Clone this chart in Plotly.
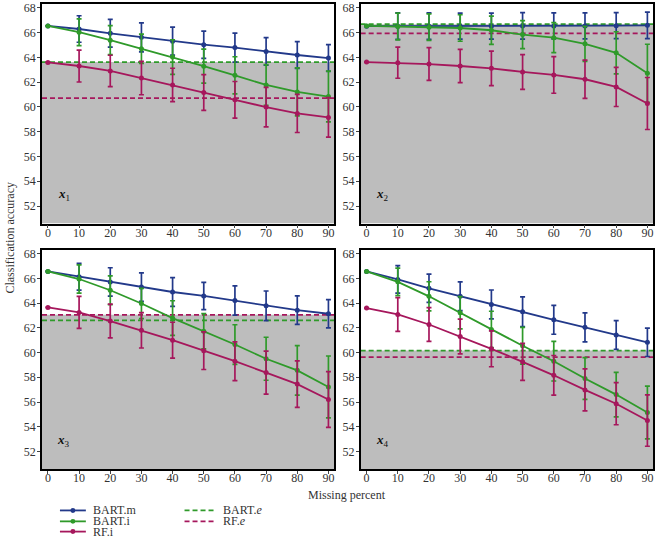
import plotly.graph_objects as go
from plotly.subplots import make_subplots

missing = [0, 10, 20, 30, 40, 50, 60, 70, 80, 90]
panel_labels = ["1", "2", "3", "4"]
series_names = ["BART.m", "BART.i", "RF.i"]
dashed_names = ["BART.e", "RF.e"]

# Panel x1
x1_bart_m = [66.55, 66.30, 65.95, 65.63, 65.32, 65.03, 64.80, 64.49, 64.20, 63.95]
x1_bart_m_err = [None, 1.07, 1.12, 1.17, 1.13, 1.10, 1.17, 1.12, 1.08, 1.08]
x1_bart_i = [66.55, 66.04, 65.40, 64.70, 64.03, 63.30, 62.56, 61.78, 61.22, 60.84]
x1_bart_i_err = [None, 1.08, 1.17, 1.18, 1.40, 1.38, 1.50, 1.65, 1.94, 2.05]
x1_rf_i = [63.60, 63.31, 62.91, 62.34, 61.78, 61.17, 60.58, 59.99, 59.48, 59.16]
x1_rf_i_err = [None, 1.29, 1.27, 1.35, 1.35, 1.45, 1.48, 1.60, 1.54, 1.60]
x1_bart_e = 63.63
x1_rf_e = 60.71

# Panel x2
x2_bart_m = [66.53, 66.53, 66.53, 66.53, 66.53, 66.55, 66.55, 66.55, 66.57, 66.60]
x2_bart_m_err = [None, 1.07, 1.07, 1.05, 1.05, 1.07, 1.05, 1.05, 1.05, 1.07]
x2_bart_i = [66.55, 66.50, 66.45, 66.38, 66.20, 65.85, 65.60, 65.10, 64.38, 62.72]
x2_bart_i_err = [None, 1.08, 1.07, 1.07, 1.14, 1.13, 1.21, 1.41, 1.70, 2.35]
x2_rf_i = [63.63, 63.58, 63.47, 63.31, 63.12, 62.83, 62.59, 62.24, 61.62, 60.28]
x2_rf_i_err = [None, 1.26, 1.32, 1.35, 1.40, 1.40, 1.48, 1.54, 1.58, 2.10]
x2_bart_e = 66.69
x2_rf_e = 65.94

# Panel x3
x3_bart_m = [66.56, 66.13, 65.71, 65.30, 64.90, 64.58, 64.21, 63.78, 63.43, 63.14]
x3_bart_m_err = [None, 1.08, 1.15, 1.15, 1.16, 1.10, 1.18, 1.20, 1.15, 1.15]
x3_bart_i = [66.56, 65.95, 65.04, 63.97, 62.79, 61.72, 60.65, 59.50, 58.56, 57.22]
x3_bart_i_err = [None, 1.14, 1.17, 1.23, 1.40, 1.43, 1.60, 1.74, 2.00, 2.50]
x3_rf_i = [63.65, 63.25, 62.55, 61.80, 61.00, 60.15, 59.30, 58.38, 57.45, 56.20]
x3_rf_i_err = [None, 1.30, 1.37, 1.43, 1.45, 1.52, 1.57, 1.74, 1.88, 2.25]
x3_bart_e = 62.60
x3_rf_e = 63.05

# Panel x4
x4_bart_m = [66.56, 65.92, 65.20, 64.55, 63.89, 63.30, 62.65, 62.04, 61.42, 60.83]
x4_bart_m_err = [None, 1.11, 1.14, 1.16, 1.17, 1.20, 1.17, 1.17, 1.17, 1.15]
x4_bart_i = [66.56, 65.72, 64.55, 63.22, 61.87, 60.55, 59.30, 57.90, 56.60, 55.15]
x4_bart_i_err = [None, 1.11, 1.18, 1.30, 1.47, 1.48, 1.60, 1.69, 1.80, 2.14]
x4_rf_i = [63.60, 63.08, 62.27, 61.30, 60.30, 59.25, 58.16, 56.98, 55.86, 54.50]
x4_rf_i_err = [None, 1.37, 1.37, 1.40, 1.45, 1.50, 1.60, 1.70, 1.70, 2.08]
x4_bart_e = 60.16
x4_rf_e = 59.63

x_ticks = [0, 10, 20, 30, 40, 50, 60, 70, 80, 90]
y_ticks = [52, 54, 56, 58, 60, 62, 64, 66, 68]

panels = [
    (x1_bart_m, x1_bart_m_err, x1_bart_i, x1_bart_i_err, x1_rf_i, x1_rf_i_err, x1_bart_e, x1_rf_e),
    (x2_bart_m, x2_bart_m_err, x2_bart_i, x2_bart_i_err, x2_rf_i, x2_rf_i_err, x2_bart_e, x2_rf_e),
    (x3_bart_m, x3_bart_m_err, x3_bart_i, x3_bart_i_err, x3_rf_i, x3_rf_i_err, x3_bart_e, x3_rf_e),
    (x4_bart_m, x4_bart_m_err, x4_bart_i, x4_bart_i_err, x4_rf_i, x4_rf_i_err, x4_bart_e, x4_rf_e),
]

BLUE = "#22398a"
GREEN = "#2f9a2a"
CRIMSON = "#a6175c"
GRAY = "#bdbdbd"
colors = [BLUE, GREEN, CRIMSON]
dash_colors = [GREEN, CRIMSON]
DASH = "5px,3px"
FONT = "Liberation Serif"
TXT = "#333333"

YMIN, YMAX = 50.58, 68.32
XMIN, XMAX = -1.9, 91.8

W, H = 656, 543
ML, MR, MT, MB = 42, 1, 1, 74
PW = W - ML - MR
PH = H - MT - MB

def px2paper_x(px):
    return (px - ML) / PW

def px2paper_y(py):
    return (H - MB - py) / PH

fig = make_subplots(rows=2, cols=2, horizontal_spacing=0.043, vertical_spacing=0.057)

positions = [(1, 1), (1, 2), (2, 1), (2, 2)]
shapes = []
annotations = []
for k, (p, (r, c)) in enumerate(zip(panels, positions)):
    bm, bme, bi, bie, rf, rfe, be, re_ = p
    idx = "" if k == 0 else str(k + 1)
    xref, yref = "x" + idx, "y" + idx
    # gray fill up to the higher benchmark line
    shapes.append(dict(type="rect", xref=xref + " domain", yref=yref,
                       x0=0, x1=1, y0=YMIN, y1=max(be, re_),
                       fillcolor=GRAY, line=dict(width=0), layer="below"))
    for val, col in zip([be, re_], dash_colors):
        shapes.append(dict(type="line", xref=xref + " domain", yref=yref,
                           x0=0, x1=1, y0=val, y1=val,
                           line=dict(color=col, width=1.8, dash=DASH), layer="below"))
    for ys, es, col, name in zip([bm, bi, rf], [bme, bie, rfe], colors, series_names):
        fig.add_trace(go.Scatter(
            x=missing, y=ys, mode="lines+markers", name=name, showlegend=False,
            line=dict(color=col, width=1.8), marker=dict(color=col, size=5),
            error_y=dict(type="data", array=es, visible=True, color=col,
                         thickness=1.7, width=2.5)), row=r, col=c)
    annotations.append(dict(xref=xref, yref=yref, x=5.0, y=52.9,
                            xanchor="center", yanchor="middle",
                            text="<b><i>x</i></b><sub>" + panel_labels[k] + "</sub>",
                            showarrow=False, font=dict(family=FONT, size=13, color="#111")))

axis_common = dict(showline=True, linecolor="black", linewidth=1.5, mirror=True,
                   ticks="outside", ticklen=3, tickcolor="#444", showgrid=False,
                   zeroline=False, tickfont=dict(family=FONT, size=12, color=TXT))
fig.update_xaxes(range=[XMIN, XMAX], tickvals=x_ticks, ticklabelstandoff=-6, **axis_common)
fig.update_yaxes(range=[YMIN, YMAX], tickvals=y_ticks, ticklabelstandoff=-1, **axis_common)

# domains
fig.update_layout(
    xaxis=dict(domain=[0, px2paper_x(335)]), xaxis3=dict(domain=[0, px2paper_x(335)]),
    xaxis2=dict(domain=[px2paper_x(361.7), 1]), xaxis4=dict(domain=[px2paper_x(361.7), 1]),
    yaxis=dict(domain=[px2paper_y(222), 1]), yaxis2=dict(domain=[px2paper_y(222), 1]),
    yaxis3=dict(domain=[0, px2paper_y(248.3)]), yaxis4=dict(domain=[0, px2paper_y(248.3)]),
)

annotations.append(dict(xref="paper", yref="paper", x=px2paper_x(10), y=px2paper_y(236),
                        xanchor="center", yanchor="middle",
                        text="Classification accuracy", textangle=-90, showarrow=False,
                        font=dict(family=FONT, size=12, color=TXT)))
annotations.append(dict(xref="paper", yref="paper", x=px2paper_x(348), y=px2paper_y(495),
                        xanchor="center", yanchor="middle",
                        text="Missing percent", showarrow=False,
                        font=dict(family=FONT, size=12, color=TXT)))

# manual legend (compact rows as in the reference)
row_y = [510.7, 521.7, 532.0]
for i, (name, col) in enumerate(zip(series_names, colors)):
    yy = px2paper_y(row_y[i])
    shapes.append(dict(type="line", xref="paper", yref="paper",
                       x0=px2paper_x(60), x1=px2paper_x(86), y0=yy, y1=yy,
                       line=dict(color=col, width=1.8)))
    shapes.append(dict(type="circle", xref="paper", yref="paper",
                       x0=px2paper_x(70.5), x1=px2paper_x(75.5),
                       y0=yy - 2.5 / PH, y1=yy + 2.5 / PH,
                       fillcolor=col, line=dict(width=0)))
    annotations.append(dict(xref="paper", yref="paper", x=px2paper_x(91), y=yy,
                            xanchor="left", yanchor="middle", text=name, showarrow=False,
                            font=dict(family=FONT, size=12, color=TXT)))
for i, (name, col) in enumerate(zip(dashed_names, dash_colors)):
    yy = px2paper_y(row_y[i])
    shapes.append(dict(type="line", xref="paper", yref="paper",
                       x0=px2paper_x(185), x1=px2paper_x(215), y0=yy, y1=yy,
                       line=dict(color=col, width=1.8, dash=DASH)))
    label = "BART.<i>e</i>" if name == "BART.e" else "RF.<i>e</i>"
    annotations.append(dict(xref="paper", yref="paper", x=px2paper_x(222), y=yy,
                            xanchor="left", yanchor="middle", text=label, showarrow=False,
                            font=dict(family=FONT, size=12, color=TXT)))

fig.update_layout(
    width=W, height=H, margin=dict(l=ML, r=MR, t=MT, b=MB),
    plot_bgcolor="white", paper_bgcolor="white", showlegend=False,
    shapes=shapes, annotations=annotations,
)

fig.write_html("out.html", config={"displayModeBar": False},
               post_script="document.body.style.margin='0';")
